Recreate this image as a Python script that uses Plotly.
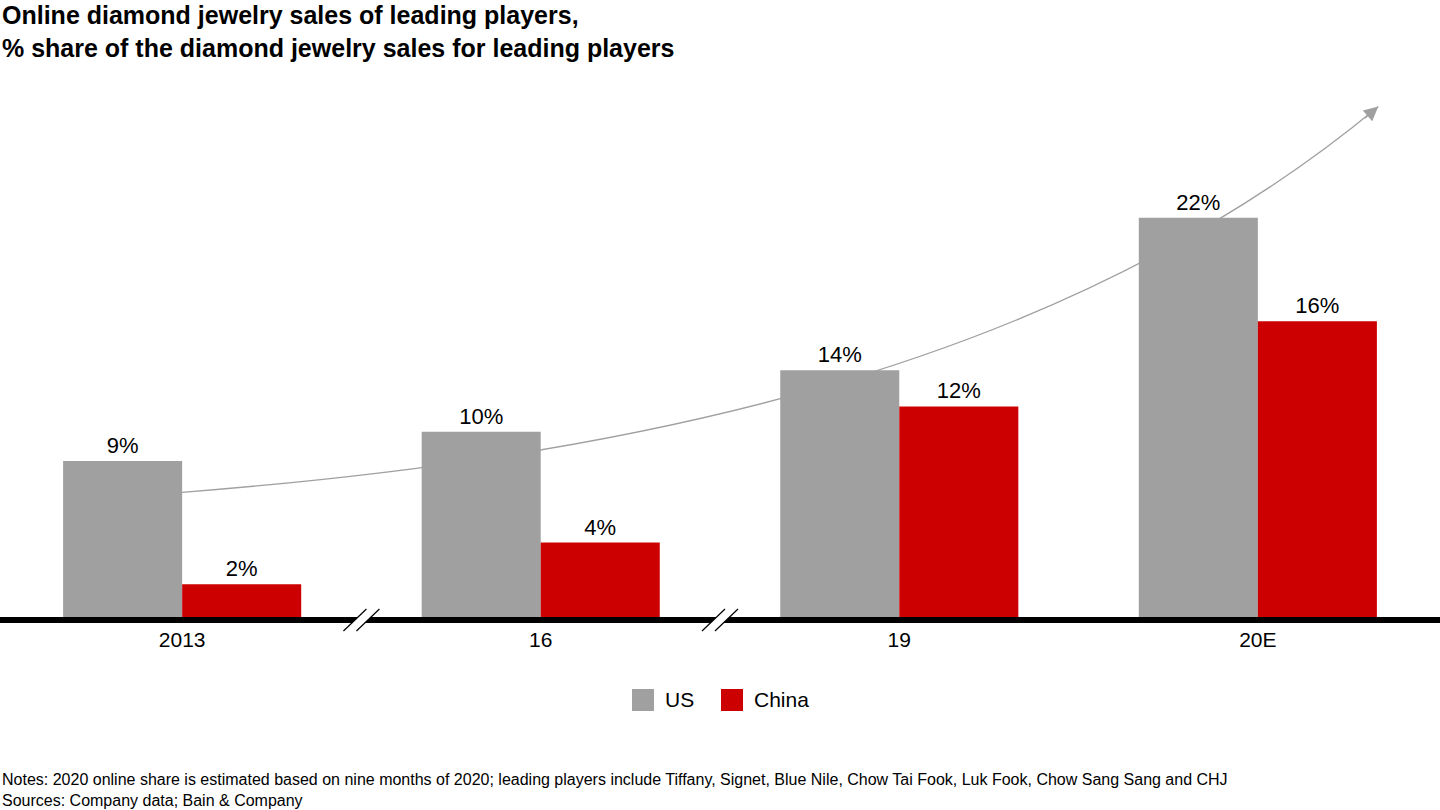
import plotly.graph_objects as go

# ---- data ----
categories = ["2013", "16", "19", "20E"]
us_values = [8.6, 10.2, 13.6, 22.0]
china_values = [1.8, 4.1, 11.6, 16.3]
us_labels = ["9%", "10%", "14%", "22%"]
china_labels = ["2%", "4%", "12%", "16%"]
series_names = ["US", "China"]
series_colors = ["#A0A0A0", "#CC0000"]

title_text = ("<b>Online diamond jewelry sales of leading players,<br>"
              "% share of the diamond jewelry sales for leading players</b>")
notes_text = ("Notes: 2020 online share is estimated based on nine months of 2020; leading players include "
              "Tiffany, Signet, Blue Nile, Chow Tai Fook, Luk Fook, Chow Sang Sang and CHJ<br>"
              "Sources: Company data; Bain & Company")

FONT = "Liberation Sans, Arial, sans-serif"
W, H = 1440, 810
M_T, M_B = 80, 193
X_RANGE = [-0.508, 3.508]
x_pos = list(range(len(categories)))
plot_h = H - M_T - M_B
PX_PER_UNIT = 18.15

def py2paper(py):
    return (H - M_B - py) / plot_h

def x2paper(x):
    return (x - X_RANGE[0]) / (X_RANGE[1] - X_RANGE[0])

fig = go.Figure()
for name, vals, labels, col in [
    (series_names[0], us_values, us_labels, series_colors[0]),
    (series_names[1], china_values, china_labels, series_colors[1]),
]:
    fig.add_trace(go.Bar(
        x=x_pos, y=vals, name=name, text=labels,
        textposition="outside", cliponaxis=False,
        textfont=dict(size=22, color="black", family=FONT),
        marker=dict(color=col, line=dict(width=0)),
        showlegend=False, hoverinfo="skip",
    ))

shapes = []
# growth curve (below bars)
shapes.append(dict(
    type="path", xref="x", yref="y", layer="below",
    path="M 0,6.87 C 1.166,8.68 2.421,13.08 3.336,28.13",
    line=dict(color="#A0A0A0", width=1.3),
))
# baseline
shapes.append(dict(type="line", xref="paper", yref="paper", x0=0, x1=1,
                   y0=-3 / plot_h, y1=-3 / plot_h,
                   line=dict(color="black", width=6), layer="above"))
# axis breaks
for xb in [0.5, 1.5]:
    shapes.append(dict(type="path", xref="paper", yref="paper", xsizemode="pixel", ysizemode="pixel",
                       xanchor=x2paper(xb), yanchor=0, layer="above",
                       path="M -18,-14 L 5,8 L 18,8 L -5,-14 Z",
                       fillcolor="white", line=dict(width=0)))
    for dx in [0, 13]:
        shapes.append(dict(type="path", xref="paper", yref="paper", xsizemode="pixel", ysizemode="pixel",
                           xanchor=x2paper(xb), yanchor=0, layer="above",
                           path=f"M {-18+dx},-14 L {5+dx},8",
                           line=dict(color="black", width=1.2)))

annotations = []
# title
annotations.append(dict(xref="paper", yref="paper", x=0, y=py2paper(-1),
                        xanchor="left", yanchor="top", align="left", showarrow=False,
                        text=title_text, font=dict(size=25, color="black", family=FONT)))

# custom legend
legend_items = [(series_names[0], series_colors[0], 632), (series_names[1], series_colors[1], 721)]
for name, col, lx in legend_items:
    shapes.append(dict(type="rect", xref="paper", yref="paper",
                       x0=lx / W, x1=(lx + 22) / W, y0=py2paper(711), y1=py2paper(689),
                       fillcolor=col, line=dict(width=0)))
    annotations.append(dict(xref="paper", yref="paper", x=(lx + 31) / W, y=py2paper(700),
                            xanchor="left", yanchor="middle", showarrow=False, text=name,
                            font=dict(size=21, color="black", family=FONT)))

# arrowhead
annotations.append(dict(x=3.336, y=28.13, xref="x", yref="y", ax=-15, ay=13, text="",
                        showarrow=True, arrowhead=2, arrowsize=2.2, arrowwidth=1.3,
                        arrowcolor="#A0A0A0", standoff=0))
# notes
annotations.append(dict(xref="paper", yref="paper", x=0, y=py2paper(769),
                        xanchor="left", yanchor="top", align="left", showarrow=False,
                        text=notes_text, font=dict(size=16, color="black", family=FONT)))

fig.update_layout(
    width=W, height=H,
    margin=dict(l=0, r=0, t=M_T, b=M_B),
    paper_bgcolor="white", plot_bgcolor="white",
    barmode="group", bargap=0.336, bargroupgap=0,
    xaxis=dict(range=X_RANGE, tickvals=x_pos, ticktext=categories,
               showgrid=False, zeroline=False, showline=False, ticks="",
               ticklabelstandoff=8,
               tickfont=dict(size=21, color="black", family=FONT)),
    yaxis=dict(range=[0, plot_h / PX_PER_UNIT], visible=False, showgrid=False, zeroline=False),
    shapes=shapes, annotations=annotations,
    font=dict(family=FONT),
)

fig.write_html("out.html", config={"displayModeBar": False},
               post_script="document.body.style.margin='0';")
